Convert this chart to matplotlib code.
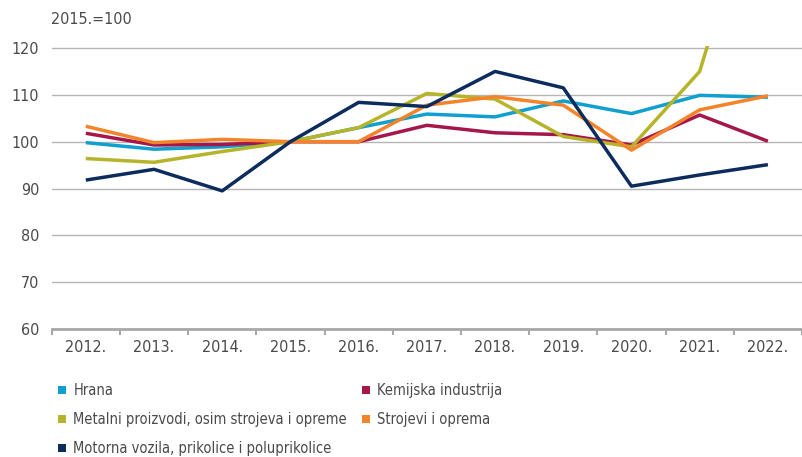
import matplotlib
matplotlib.use("Agg")
import matplotlib.pyplot as plt
from matplotlib.lines import Line2D

# Index values (2015. = 100)
years = ["2012.", "2013.", "2014.", "2015.", "2016.", "2017.", "2018.", "2019.", "2020.", "2021.", "2022."]

hrana = [99.8, 98.4, 98.9, 100.0, 103.0, 105.9, 105.3, 108.7, 106.0, 109.9, 109.5]
kemijska = [101.8, 99.3, 99.4, 100.0, 100.0, 103.5, 101.9, 101.5, 99.3, 105.7, 100.1]
metalni = [96.4, 95.6, 97.9, 100.0, 103.0, 110.3, 109.1, 101.1, 98.9, 115.0, 163.0]
strojevi = [103.3, 99.8, 100.5, 100.0, 100.0, 107.8, 109.6, 107.8, 98.2, 106.8, 109.8]
motorna = [91.8, 94.1, 89.5, 100.0, 108.4, 107.5, 115.0, 111.5, 90.5, 92.9, 95.1]

labels = ["Hrana", "Kemijska industrija", "Metalni proizvodi, osim strojeva i opreme",
          "Strojevi i oprema", "Motorna vozila, prikolice i poluprikolice"]
colors = ["#0fa0cf", "#a5174b", "#b6b42a", "#f4832a", "#0c2c5e"]
series = [hrana, kemijska, metalni, strojevi, motorna]

text_color = "#4a4a4a"
grid_color = "#b5b5b5"
plt.rcParams["font.family"] = ["DejaVu Sans"]
plt.rcParams["font.stretch"] = "condensed"

fig = plt.figure(figsize=(8.02, 4.57), dpi=100)
# axes run past the right edge of the picture, like in the reference
ax = fig.add_axes([51.7 / 802, (457 - 329) / 457, (802 - 51.7) / 802, (329 - 45.7) / 457])

x = list(range(len(years)))
for vals, col, lab in zip(series, colors, labels):
    ax.plot(x, vals, color=col, linewidth=2.5, label=lab, solid_capstyle="butt", zorder=3)

ax.set_xlim(-0.5, 10.33)
ax.set_ylim(60, 120.5)
ax.set_yticks([60, 70, 80, 90, 100, 110, 120])
ax.set_xticks(x)
ax.set_xticklabels(years)
ax.set_xticks([i - 0.5 for i in range(len(years) + 1)], minor=True)

ax.grid(axis="y", color=grid_color, linewidth=1.0)
ax.set_axisbelow(True)
for s in ["top", "right", "left"]:
    ax.spines[s].set_visible(False)
ax.spines["bottom"].set_color("#a8a8a8")
ax.spines["bottom"].set_linewidth(2.0)

ax.tick_params(axis="x", which="major", length=0, pad=8, labelsize=11.5, labelcolor=text_color)
ax.tick_params(axis="x", which="minor", length=4, width=1.5, color="#a8a8a8", direction="out")
ax.tick_params(axis="y", length=0, pad=9, labelsize=11.5, labelcolor=text_color)

fig.text(51 / 802, 1 - 20 / 457, "2015.=100", fontsize=11.5, color=text_color, va="center", ha="left")


def square(c):
    return Line2D([], [], marker="s", linestyle="none", markersize=5.5, color=c, markeredgewidth=0)


# legend in two columns, placed separately
columns = [([0, 2, 4], 58), ([1, 3], 362)]
for idx, xpx in columns:
    leg = fig.legend([square(colors[i]) for i in idx], [labels[i] for i in idx], loc="upper left",
                     bbox_to_anchor=(xpx / 802, 1 - 383 / 457), frameon=False, fontsize=10.5,
                     handlelength=0.6, handletextpad=0.45, labelspacing=0.95,
                     borderaxespad=0, borderpad=0)
    for t in leg.get_texts():
        t.set_color(text_color)

plt.savefig("out.png", dpi=100)
plt.close()
